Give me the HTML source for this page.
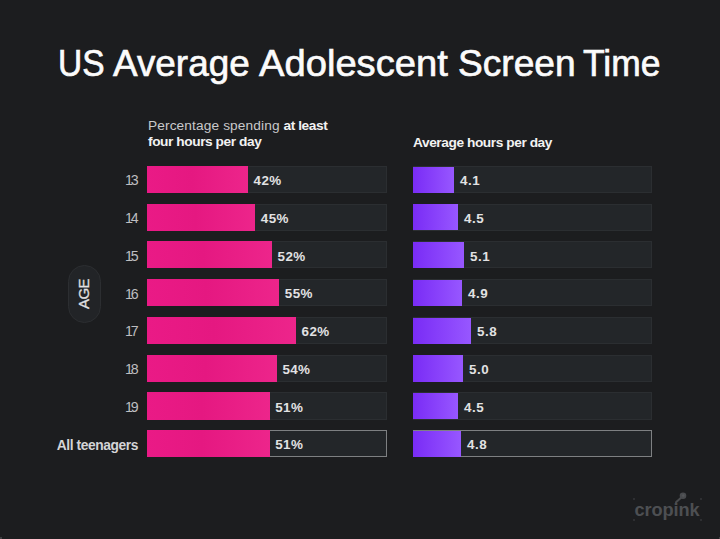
<!DOCTYPE html>
<html><head><meta charset="utf-8"><title>US Average Adolescent Screen Time</title>
<style>
html,body{margin:0;padding:0;background:#1c1d1f;}
body{width:720px;height:539px;overflow:hidden;position:relative;font-family:"Liberation Sans",sans-serif;color:#fff;}
.t{position:absolute;white-space:nowrap;line-height:1;}
.tw{top:45.9px;font-size:36px;color:#fbfbfb;-webkit-text-stroke:0.65px #fbfbfb;transform-origin:0 50%;}
.sub{font-size:13.7px;color:#f2f2f2;}
.sub b{font-weight:700;letter-spacing:-0.42px;}
.lt{color:#c9c9cb;font-weight:400;letter-spacing:0.12px;}
.track{position:absolute;box-sizing:border-box;background:#232629;border:1px solid #2b2e31;}
.track.hl{border:1px solid #7e8082;}
.pink{position:absolute;background:linear-gradient(90deg,#ea1a86 0%,#e51881 45%,#ed258b 100%);}
.purple{position:absolute;background:linear-gradient(90deg,#792cf5 0%,#8a43fb 55%,#9757ff 100%);}
.age{font-size:14.2px;color:#bebec0;text-align:right;letter-spacing:-2.2px;}
.all{font-size:13.8px;font-weight:700;color:#d4d4d6;letter-spacing:-0.4px;}
.val{font-size:13.4px;font-weight:700;color:#e2e2e3;letter-spacing:0px;}
#pill{position:absolute;left:67.5px;top:264.6px;width:33px;height:58.6px;box-sizing:border-box;border-radius:16.5px;background:#222427;border:1px solid #2c2e31;}
#agetxt{position:absolute;left:83.1px;top:293.8px;font-size:15px;color:#e0e0e1;letter-spacing:-0.5px;-webkit-text-stroke:0.25px #e0e0e1;transform:translate(-50%,-50%) rotate(-90deg);line-height:1;white-space:nowrap;}
#logo{left:634.5px;top:501px;font-size:18.2px;font-weight:700;color:#4d4f52;letter-spacing:-0.1px;}
.dot{position:absolute;width:2px;height:2px;border-radius:1px;background:#34363a;}
</style></head>
<body>
<div class="t tw" style="left:58.14px;transform:scaleX(0.931);">US</div>
<div class="t tw" style="left:113.02px;transform:scaleX(1.024);">Average</div>
<div class="t tw" style="left:259.06px;transform:scaleX(1.06);">Adolescent</div>
<div class="t tw" style="left:457.72px;transform:scaleX(1.031);">Screen</div>
<div class="t tw" style="left:583.25px;transform:scaleX(0.984);">Time</div>
<div class="t sub" style="left:148px;top:119.2px;"><span class="lt">Percentage spending</span> <b>at least</b></div>
<div class="t sub" style="left:148px;top:135.4px;"><b>four hours per day</b></div>
<div class="t sub" style="left:413px;top:135.6px;"><b>Average hours per day</b></div>
<div id="pill"></div><div id="agetxt">AGE</div>
<div class="track" style="left:147.3px;top:165.75px;width:240px;height:27.1px;"></div>
<div class="pink" style="left:147.3px;top:165.75px;width:100.8px;height:27.1px;"></div>
<div class="track" style="left:413px;top:165.75px;width:239px;height:27.1px;"></div>
<div class="purple" style="left:413px;top:166.55px;width:41.1px;height:26.1px;"></div>
<div class="t age" style="right:583.6px;top:173.35px;">13</div>
<div class="t val" style="left:253.6px;top:173.95px;letter-spacing:0.4px;">42%</div>
<div class="t val" style="left:460.0px;top:173.95px;letter-spacing:0.5px;">4.1</div>
<div class="track" style="left:147.3px;top:203.53px;width:240px;height:27.1px;"></div>
<div class="pink" style="left:147.3px;top:203.53px;width:108.0px;height:27.1px;"></div>
<div class="track" style="left:413px;top:203.53px;width:239px;height:27.1px;"></div>
<div class="purple" style="left:413px;top:204.33px;width:45.1px;height:26.1px;"></div>
<div class="t age" style="right:583.6px;top:211.13px;">14</div>
<div class="t val" style="left:260.8px;top:211.73px;letter-spacing:0.4px;">45%</div>
<div class="t val" style="left:464.0px;top:211.73px;letter-spacing:0.5px;">4.5</div>
<div class="track" style="left:147.3px;top:241.31px;width:240px;height:27.1px;"></div>
<div class="pink" style="left:147.3px;top:241.31px;width:124.8px;height:27.1px;"></div>
<div class="track" style="left:413px;top:241.31px;width:239px;height:27.1px;"></div>
<div class="purple" style="left:413px;top:242.11px;width:51.1px;height:26.1px;"></div>
<div class="t age" style="right:583.6px;top:248.91px;">15</div>
<div class="t val" style="left:277.6px;top:249.51px;letter-spacing:0.4px;">52%</div>
<div class="t val" style="left:470.0px;top:249.51px;letter-spacing:0.5px;">5.1</div>
<div class="track" style="left:147.3px;top:279.09px;width:240px;height:27.1px;"></div>
<div class="pink" style="left:147.3px;top:279.09px;width:132.0px;height:27.1px;"></div>
<div class="track" style="left:413px;top:279.09px;width:239px;height:27.1px;"></div>
<div class="purple" style="left:413px;top:279.89px;width:49.1px;height:26.1px;"></div>
<div class="t age" style="right:583.6px;top:286.69px;">16</div>
<div class="t val" style="left:284.8px;top:287.29px;letter-spacing:0.4px;">55%</div>
<div class="t val" style="left:468.0px;top:287.29px;letter-spacing:0.5px;">4.9</div>
<div class="track" style="left:147.3px;top:316.87px;width:240px;height:27.1px;"></div>
<div class="pink" style="left:147.3px;top:316.87px;width:148.8px;height:27.1px;"></div>
<div class="track" style="left:413px;top:316.87px;width:239px;height:27.1px;"></div>
<div class="purple" style="left:413px;top:317.67px;width:58.1px;height:26.1px;"></div>
<div class="t age" style="right:583.6px;top:324.47px;">17</div>
<div class="t val" style="left:301.6px;top:325.07px;letter-spacing:0.4px;">62%</div>
<div class="t val" style="left:477.0px;top:325.07px;letter-spacing:0.5px;">5.8</div>
<div class="track" style="left:147.3px;top:354.65px;width:240px;height:27.1px;"></div>
<div class="pink" style="left:147.3px;top:354.65px;width:129.6px;height:27.1px;"></div>
<div class="track" style="left:413px;top:354.65px;width:239px;height:27.1px;"></div>
<div class="purple" style="left:413px;top:355.45px;width:50.1px;height:26.1px;"></div>
<div class="t age" style="right:583.6px;top:362.25px;">18</div>
<div class="t val" style="left:282.4px;top:362.85px;letter-spacing:0.4px;">54%</div>
<div class="t val" style="left:469.0px;top:362.85px;letter-spacing:0.5px;">5.0</div>
<div class="track" style="left:147.3px;top:392.43px;width:240px;height:27.1px;"></div>
<div class="pink" style="left:147.3px;top:392.43px;width:122.4px;height:27.1px;"></div>
<div class="track" style="left:413px;top:392.43px;width:239px;height:27.1px;"></div>
<div class="purple" style="left:413px;top:393.23px;width:45.1px;height:26.1px;"></div>
<div class="t age" style="right:583.6px;top:400.03px;">19</div>
<div class="t val" style="left:275.2px;top:400.63px;letter-spacing:0.4px;">51%</div>
<div class="t val" style="left:464.0px;top:400.63px;letter-spacing:0.5px;">4.5</div>
<div class="track hl" style="left:147.3px;top:430.21px;width:240px;height:27.1px;"></div>
<div class="pink" style="left:147.3px;top:430.21px;width:122.4px;height:27.1px;"></div>
<div class="track hl" style="left:413px;top:430.21px;width:239px;height:27.1px;"></div>
<div class="purple" style="left:413px;top:431.01px;width:48.1px;height:26.1px;"></div>
<div class="t all" style="right:581.9px;top:438.71px;">All teenagers</div>
<div class="t val" style="left:275.2px;top:438.41px;letter-spacing:0.4px;">51%</div>
<div class="t val" style="left:467.0px;top:438.41px;letter-spacing:0.5px;">4.8</div>
<div style="position:absolute;left:0;top:537px;width:1.5px;height:2px;background:#3f4042;"></div><div style="position:absolute;left:718.5px;top:537px;width:1.5px;height:2px;background:#3f4042;"></div>
<div id="logo" class="t">cropink</div>
<div class="dot" style="left:633px;top:498px;"></div>
<div class="dot" style="left:700px;top:498px;"></div>
<div class="dot" style="left:633px;top:519.4px;"></div>
<div class="dot" style="left:700px;top:519.4px;"></div>
<svg style="position:absolute;left:672px;top:490px;" width="18" height="16" viewBox="0 0 18 16"><circle cx="11" cy="5.8" r="3.3" fill="#494b4e"/><circle cx="11.3" cy="5.5" r="1.2" fill="#55575a"/><path d="M9 7.8 L4 12.3" stroke="#494b4e" stroke-width="2" stroke-linecap="round" fill="none"/></svg>
</body></html>
